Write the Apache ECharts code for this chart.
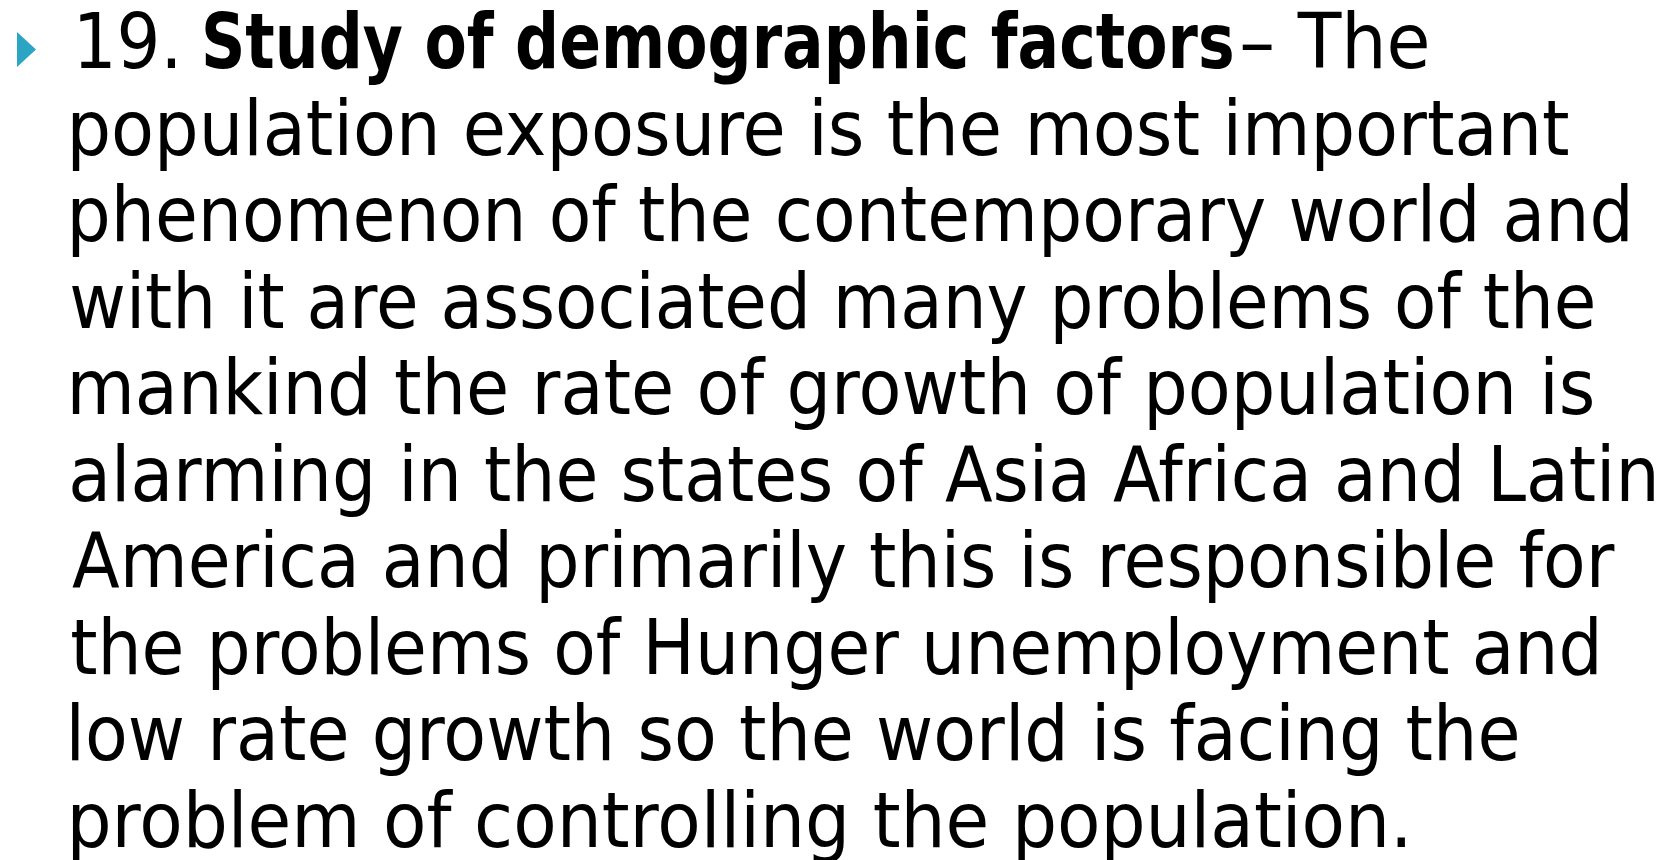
<!DOCTYPE html>
<html>
<head>
<meta charset="UTF-8" />
<script src="https://cdn.jsdelivr.net/npm/echarts@6/dist/echarts.min.js"></script>
<style>
  html, body, #main { margin: 0; padding: 0; background: #fff; }
</style>
</head>
<body>
<div id="main" style="width: 1675px; height: 860px;"></div>
<script>
// slide text
const bulletLabel = '19.';
const headingBold = 'Study of demographic factors';
const headingTail = '– The';
const bodyLines = [
  'population exposure is the most important',
  'phenomenon of the contemporary world and',
  'with it are associated many problems of the',
  'mankind the rate of growth of population is',
  'alarming in the states of Asia Africa and Latin',
  'America and primarily this is responsible for',
  'the problems of Hunger unemployment and',
  'low rate growth so the world is facing the',
  'problem of controlling the population.'
];

// layout (ink extents, px)
const FONT_FAMILY = '"DejaVu Sans"';
const FONT_SIZE = 76;
const firstBaseline = 68;
const lineStep = 86.5;
const bodyLeft = 72;
const bodyRight = [1568, 1628, 1593, 1592, 1654, 1615, 1597, 1517, 1405];
const headSpans = [[80, 175], [205, 1232], [1242, 1427]];

const ctx = document.createElement('canvas').getContext('2d');

function fitText(text, weight, x0, x1, baseline) {
  const font = weight + ' ' + FONT_SIZE + 'px ' + FONT_FAMILY;
  ctx.font = font;
  ctx.textBaseline = 'middle';
  const m = ctx.measureText(text);
  const h = ctx.measureText('H');
  const s = (x1 - x0) / (m.actualBoundingBoxLeft + m.actualBoundingBoxRight);
  return {
    type: 'text',
    x: x0 + m.actualBoundingBoxLeft * s,
    y: baseline - h.actualBoundingBoxDescent,
    scaleX: s,
    style: {
      text: text,
      x: 0,
      y: 0,
      fill: '#000',
      fontSize: FONT_SIZE,
      fontFamily: FONT_FAMILY,
      fontWeight: weight,
      align: 'left',
      verticalAlign: 'middle'
    }
  };
}

const elements = [
  {
    type: 'polygon',
    shape: { points: [[17, 32], [36, 49.5], [17, 67]] },
    style: { fill: '#2ca4c4' }
  },
  fitText(bulletLabel, 'normal', headSpans[0][0], headSpans[0][1], firstBaseline),
  fitText(headingBold, 'bold', headSpans[1][0], headSpans[1][1], firstBaseline),
  fitText(headingTail, 'normal', headSpans[2][0], headSpans[2][1], firstBaseline)
];

bodyLines.forEach(function (line, i) {
  elements.push(fitText(line, 'normal', bodyLeft, bodyRight[i], firstBaseline + lineStep * (i + 1)));
});

const chart = echarts.init(document.getElementById('main'));
chart.setOption({
  backgroundColor: '#fff',
  animation: false,
  graphic: { elements: elements }
});
</script>
</body>
</html>
